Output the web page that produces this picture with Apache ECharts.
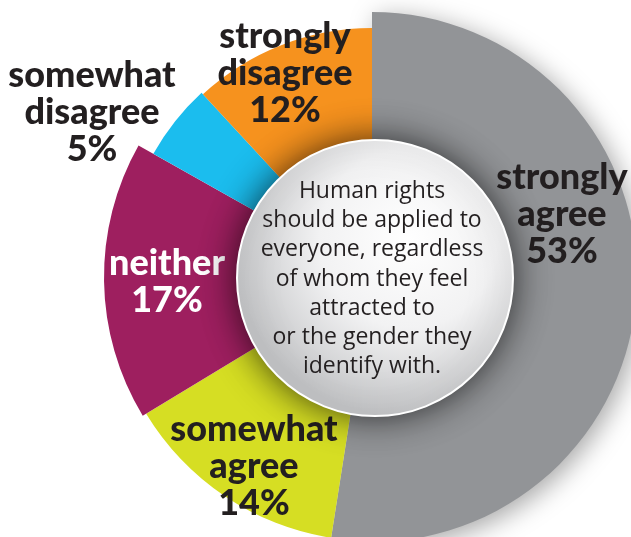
<!DOCTYPE html>
<html>
<head>
<meta charset="utf-8">
<style>
  html, body { margin: 0; padding: 0; background: #ffffff; }
  #chart { width: 631px; height: 537px; }
</style>
<script src="https://cdn.jsdelivr.net/npm/echarts@6/dist/echarts.min.js"></script>
</head>
<body>
<div id="chart"></div>
<script>
// Survey answers, clockwise from the top
const categories = ['strongly agree', 'somewhat agree', 'neither', 'somewhat disagree', 'strongly disagree'];
const values = [53, 14, 17, 5, 12];
const centerText = 'Human rights\nshould be applied to\neveryone, regardless\nof whom they feel\nattracted to\nor the gender they\nidentify with.';

// Styling per answer
const colors = ['#929497', '#d6de23', '#9e1f5f', '#1bbdee', '#f6921e'];
const labelColors = ['#231f20', '#231f20', '#ffffff', '#231f20', '#231f20'];
const outerRadius = [265, 264, 268, 251, 249];
const labelPos = [[562, 214], [254, 466], [167, 282], [92, 112], [285, 73]];

const PIE_CENTER = [372, 277];
const CIRCLE = { cx: 375, cy: 278, r: 138 };

function labelText(name, value) {
  return name.split(' ').join('\n') + '\n' + value + '%';
}

// one pie per answer so each wedge can have its own outer radius
const series = categories.map(function (cat, i) {
  return {
    type: 'pie',
    z: i === 0 ? 1 : 2,
    center: PIE_CENTER,
    radius: [60, outerRadius[i]],
    startAngle: 90,
    clockwise: true,
    silent: true,
    avoidLabelOverlap: false,
    emphasis: { disabled: true },
    labelLine: { show: false },
    label: {
      position: 'inside',
      fontFamily: 'Lato',
      fontWeight: 900,
      fontSize: 36,
      lineHeight: 37,
      color: labelColors[i],
      formatter: function (p) { return labelText(p.name, p.value); }
    },
    labelLayout: function () {
      return { x: labelPos[i][0], y: labelPos[i][1], align: 'center', verticalAlign: 'middle' };
    },
    data: categories.map(function (c, j) {
      const own = j === i;
      return {
        name: c,
        value: values[j],
        itemStyle: own
          ? Object.assign({ color: colors[i] }, i === 0 ? {
              shadowBlur: 26, shadowColor: 'rgba(0,0,0,0.35)', shadowOffsetX: 5, shadowOffsetY: 5
            } : {})
          : { color: 'rgba(0,0,0,0)' },
        label: { show: own }
      };
    })
  };
});

const chart = echarts.init(document.getElementById('chart'), null, { renderer: 'canvas' });
chart.setOption({
  backgroundColor: '#ffffff',
  animation: false,
  series: series,
  graphic: [{
    type: 'circle',
    z: 100,
    shape: { cx: CIRCLE.cx, cy: CIRCLE.cy, r: CIRCLE.r },
    style: {
      fill: {
        type: 'radial', x: 0.62, y: 0.36, r: 0.64,
        colorStops: [
          { offset: 0, color: '#ffffff' },
          { offset: 0.5, color: '#f2f2f3' },
          { offset: 1, color: '#c4c5c7' }
        ]
      },
      stroke: '#ffffff',
      lineWidth: 2,
      shadowBlur: 36,
      shadowColor: 'rgba(0,0,0,0.7)'
    }
  }, {
    type: 'text',
    z: 101,
    x: CIRCLE.cx - 3,
    y: CIRCLE.cy + 1,
    style: {
      text: centerText,
      align: 'center',
      verticalAlign: 'middle',
      fontFamily: 'Open Sans',
      fontSize: 23,
      lineHeight: 29.3,
      fill: '#231f20'
    }
  }]
});
</script>
</body>
</html>
